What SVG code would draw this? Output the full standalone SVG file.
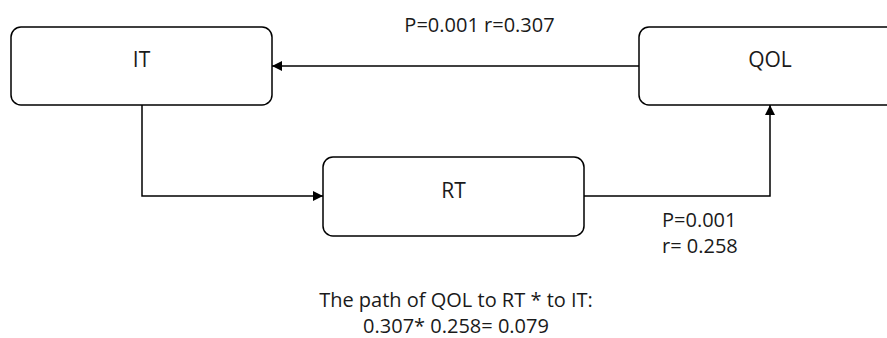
<svg xmlns="http://www.w3.org/2000/svg" width="887" height="338" viewBox="0 0 887 338">
  <style>
    .box { fill: #ffffff; stroke: #000000; stroke-width: 1.5; }
    .edge { fill: none; stroke: #000000; stroke-width: 1.5; }
    .lbl { font-family: "Open Sans", "Noto Sans", sans-serif; fill: #1a1a1a; }
    .node { font-size: 21px; text-anchor: middle; }
    .note { font-size: 20px; }
    .mid { text-anchor: middle; }
  </style>
  <defs>
    <marker id="arrow" viewBox="0 0 10 10" refX="10" refY="5" markerWidth="10" markerHeight="10" markerUnits="userSpaceOnUse" orient="auto">
      <path d="M0,0 L10,5 L0,10 Z" fill="#000000"/>
    </marker>
  </defs>
  <rect width="887" height="338" fill="#ffffff"/>

  <g id="connectors">
    <!-- QOL to IT -->
    <path class="edge" d="M639,66 L272,66" marker-end="url(#arrow)"/>
    <!-- IT to RT -->
    <path class="edge" d="M142,105 L142,196 L323,196" marker-end="url(#arrow)"/>
    <!-- RT to QOL -->
    <path class="edge" d="M584,196 L770,196 L770,105" marker-end="url(#arrow)"/>
  </g>

  <g id="node-it">
    <rect class="box" x="11" y="27" width="261" height="78" rx="10"/>
    <text class="lbl node" x="141.5" y="66.5">IT</text>
  </g>
  <g id="node-qol">
    <rect class="box" x="639" y="27" width="262" height="78" rx="10"/>
    <text class="lbl node" x="770" y="67">QOL</text>
  </g>
  <g id="node-rt">
    <rect class="box" x="323" y="157" width="261" height="79" rx="10"/>
    <text class="lbl node" x="453.5" y="198">RT</text>
  </g>

  <g id="labels">
    <text class="lbl note mid" x="479.5" y="32">P=0.001 r=0.307</text>
    <text class="lbl note" x="662" y="227">P=0.001</text>
    <text class="lbl note" x="662" y="253">r= 0.258</text>
    <text class="lbl note mid" x="456" y="307" font-size="19">The path of QOL to RT * to IT:</text>
    <text class="lbl note mid" x="456" y="333">0.307* 0.258= 0.079</text>
  </g>
</svg>
